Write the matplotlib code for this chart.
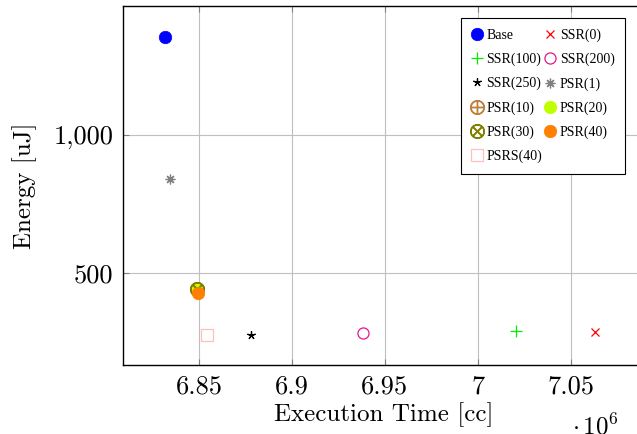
import matplotlib
matplotlib.use("Agg")
import matplotlib.pyplot as plt
from matplotlib.ticker import FuncFormatter

# data (execution time in 10^6 cc, energy in uJ)
series = ["Base", "SSR(0)", "SSR(100)", "SSR(200)", "SSR(250)", "PSR(1)",
          "PSR(10)", "PSR(20)", "PSR(30)", "PSR(40)", "PSRS(40)"]
exec_time = [6.8319, 7.0633, 7.0204, 6.9380, 6.8780, 6.8344,
             6.8491, 6.8491, 6.8491, 6.8496, 6.8541]
energy = [1357, 283, 287, 281, 275, 840, 440, 440, 440, 426, 273]

# marker, colour, filled, size
styles = {
    "Base":     ("o", "#0000ff", True, 9),
    "SSR(0)":   ("x", "#ff0000", True, 6),
    "SSR(100)": ("+", "#00ee00", True, 8),
    "SSR(200)": ("o", "#e6168a", False, 8),
    "SSR(250)": ((5, 2, 0), "#000000", True, 6),
    "PSR(1)":   ((8, 2, 0), "#808080", True, 7),
    "PSR(10)":  (r"$\oplus$", "#bf8040", True, 10),
    "PSR(20)":  ("o", "#bfff00", True, 9),
    "PSR(30)":  (r"$\otimes$", "#808000", True, 10),
    "PSR(40)":  ("o", "#ff8000", True, 9),
    "PSRS(40)": ("s", "#ffbfbf", False, 8),
}

plt.rcParams["mathtext.fontset"] = "cm"

fig = plt.figure(figsize=(6.37, 4.34), dpi=100)
ax = fig.add_axes([123 / 637, 69 / 434, 522 / 637, 359 / 434])

handles = {}
for name, x, y in zip(series, exec_time, energy):
    m, c, filled, ms = styles[name]
    h, = ax.plot(x, y, linestyle="none", marker=m, markersize=ms,
                 color=c, markerfacecolor=c if filled else "none",
                 markeredgecolor=c,
                 markeredgewidth=0.5 if (m in ("o", "s") and filled) else 0.9,
                 label=name)
    handles[name] = h

ax.set_xlim(6.8091, 7.09)
ax.set_ylim(165, 1468)
ax.set_xticks([6.85, 6.9, 6.95, 7.0, 7.05])
ax.set_yticks([500, 1000])
ax.xaxis.set_major_formatter(FuncFormatter(lambda v, p: "%g" % round(v, 2)))
ax.yaxis.set_major_formatter(FuncFormatter(lambda v, p: "{:,.0f}".format(v)))

ax.grid(True, color="#bfbfbf", linewidth=0.8)
ax.set_axisbelow(True)
ax.tick_params(direction="in", length=4, width=0.8, color="#808080",
               top=True, right=True, labelsize=19, pad=7)
for lab in ax.get_xticklabels() + ax.get_yticklabels():
    lab.set_family("cmr10")
for sp in ax.spines.values():
    sp.set_linewidth(1.0)

ax.set_xlabel("Execution Time [cc]", family="cmr10", fontsize=18, labelpad=3)
ax.set_ylabel("Energy [uJ]", family="cmr10", fontsize=18, labelpad=12)
fig.text(0.935, -0.012, r"$\cdot\,10^{6}$", fontsize=18, ha="center", va="bottom")

# pgfplots fills the legend row by row, matplotlib column by column
order = series[0::2] + series[1::2]
leg = ax.legend([handles[n] for n in order], order, ncol=2, loc="upper right",
                bbox_to_anchor=(625 / 637, 1 - 18 / 434),
                bbox_transform=fig.transFigure, frameon=True, fancybox=False,
                edgecolor="black", framealpha=1,
                prop={"family": "Liberation Serif", "size": 10},
                labelspacing=0.78, columnspacing=0.15, handlelength=0.8,
                handletextpad=0.3, borderpad=0.75, borderaxespad=0, numpoints=1)
leg.get_frame().set_linewidth(0.8)

fig.savefig("out.png", dpi=100)
